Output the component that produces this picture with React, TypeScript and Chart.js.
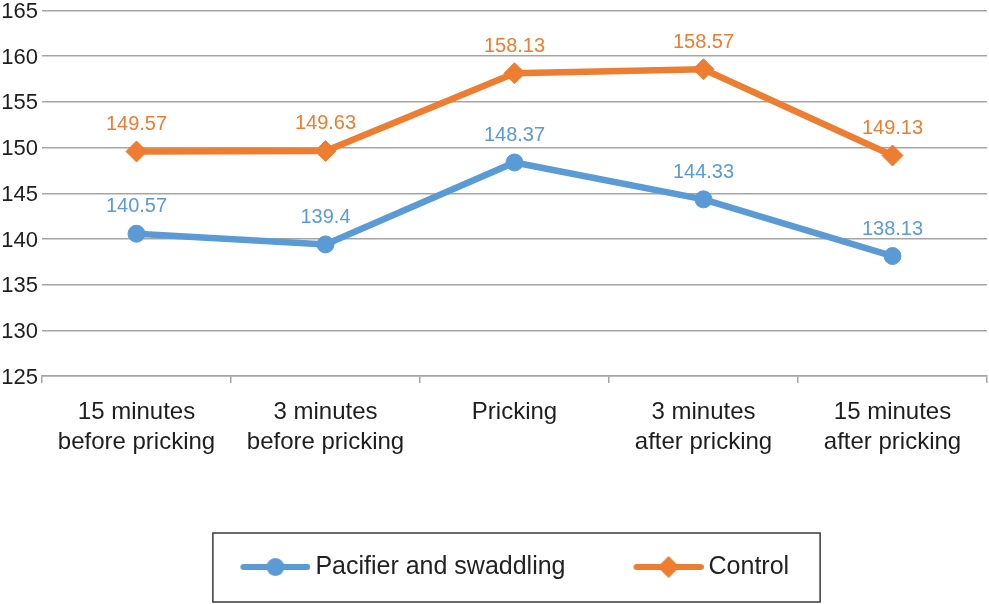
import React, { useEffect, useRef } from "react";
import { Chart, registerables } from "chart.js";

Chart.register(...registerables);

const categories: (string | string[])[] = [
  ["15 minutes", "before pricking"],
  ["3 minutes", "before pricking"],
  "Pricking",
  ["3 minutes", "after pricking"],
  ["15 minutes", "after pricking"],
];
const pacifierValues = [140.57, 139.4, 148.37, 144.33, 138.13];
const controlValues = [149.57, 149.63, 158.13, 158.57, 149.13];
const seriesNames = ["Pacifier and swaddling", "Control"];
const yMin = 125;
const yMax = 165;
const yStep = 5;

const BLUE = "#5B9BD5";
const ORANGE = "#ED7D31";
const FONT = "'Liberation Sans', Arial, Helvetica, sans-serif";

function makeSymbol(color: string, kind: "circle" | "diamond"): HTMLCanvasElement {
  const c = document.createElement("canvas");
  c.width = 78;
  c.height = 24;
  const g = c.getContext("2d")!;
  g.strokeStyle = color;
  g.fillStyle = color;
  g.lineWidth = 6;
  g.lineCap = "round";
  g.beginPath();
  g.moveTo(11, 12);
  g.lineTo(75, 12);
  g.stroke();
  g.beginPath();
  if (kind === "circle") {
    g.arc(43, 12, 9, 0, Math.PI * 2);
  } else {
    g.moveTo(43, 1);
    g.lineTo(54, 12);
    g.lineTo(43, 23);
    g.lineTo(32, 12);
    g.closePath();
  }
  g.fill();
  return c;
}

const dataLabelPlugin = {
  id: "dataLabels",
  afterDatasetsDraw(chart: any) {
    const ctx = chart.ctx;
    ctx.save();
    ctx.font = `20px ${FONT}`;
    ctx.textAlign = "center";
    ctx.textBaseline = "middle";
    chart.data.datasets.forEach((ds: any, i: number) => {
      const meta = chart.getDatasetMeta(i);
      ctx.fillStyle = ds.borderColor;
      meta.data.forEach((pt: any, j: number) => {
        ctx.fillText(String(ds.data[j]), pt.x, pt.y - 27);
      });
    });
    ctx.restore();
  },
};

const legendBoxPlugin = {
  id: "legendBox",
  afterDraw(chart: any) {
    const lg = chart.legend;
    if (!lg || !lg.legendHitBoxes || !lg.legendHitBoxes.length) return;
    const hb = lg.legendHitBoxes;
    const first = hb[0];
    const last = hb[hb.length - 1];
    const cy = first.top + first.height / 2;
    const left = first.left - 27;
    const right = last.left + last.width + 31;
    const top = cy - 34;
    const bottom = cy + 35;
    const ctx = chart.ctx;
    ctx.save();
    ctx.strokeStyle = "#3a3a3a";
    ctx.lineWidth = 1.5;
    ctx.strokeRect(left, top, right - left, bottom - top);
    ctx.restore();
  },
};

export default function App() {
  const ref = useRef<HTMLCanvasElement | null>(null);

  useEffect(() => {
    if (!ref.current) return;
    const symbols = [makeSymbol(BLUE, "circle"), makeSymbol(ORANGE, "diamond")];
    const chart = new Chart(ref.current, {
      type: "line",
      data: {
        labels: categories as any,
        datasets: [
          {
            label: seriesNames[0],
            data: pacifierValues,
            borderColor: BLUE,
            backgroundColor: BLUE,
            borderWidth: 6.5,
            pointStyle: "circle",
            pointRadius: 8.5,
            pointBorderWidth: 1,
            pointBackgroundColor: BLUE,
            pointBorderColor: BLUE,
            tension: 0,
          },
          {
            label: seriesNames[1],
            data: controlValues,
            borderColor: ORANGE,
            backgroundColor: ORANGE,
            borderWidth: 6.5,
            pointStyle: "rectRot",
            pointRadius: 10.5,
            pointBorderWidth: 1,
            pointBackgroundColor: ORANGE,
            pointBorderColor: ORANGE,
            tension: 0,
          },
        ],
      },
      options: {
        responsive: false,
        animation: false,
        layout: { autoPadding: false, padding: { top: 10.5, left: 0, right: 2, bottom: 14.5 } },
        plugins: {
          tooltip: { enabled: false },
          legend: {
            position: "bottom",
            fullSize: false,
            labels: {
              usePointStyle: true,
              pointStyleWidth: 63,
              padding: 67.5,
              color: "#222",
              font: { family: FONT, size: 25 },
              generateLabels: (c: any) =>
                c.data.datasets.map((ds: any, i: number) => ({
                  text: ds.label,
                  pointStyle: symbols[i],
                  fillStyle: ds.borderColor,
                  strokeStyle: ds.borderColor,
                  lineWidth: 0,
                  hidden: false,
                  datasetIndex: i,
                  fontColor: "#222",
                })),
            },
          },
        },
        scales: {
          x: {
            type: "category",
            offset: true,
            grid: {
              offset: true,
              drawOnChartArea: false,
              drawTicks: true,
              tickLength: 7,
              color: "#a5a5a5",
              lineWidth: 1.5,
            },
            border: { display: true, color: "#a5a5a5", width: 1.5 },
            ticks: {
              autoSkip: false,
              maxRotation: 0,
              minRotation: 0,
              padding: 14,
              color: "#1e1e1e",
              font: { family: FONT, size: 24, lineHeight: 1.25 },
            },
            afterFit: (s: any) => {
              s.height = 111;
              s.paddingLeft = 0;
              s.paddingRight = 0;
            },
          },
          y: {
            min: yMin,
            max: yMax,
            ticks: {
              stepSize: yStep,
              padding: 4,
              labelOffset: 1.5,
              color: "#1e1e1e",
              font: { family: FONT, size: 22 },
            },
            grid: {
              drawTicks: false,
              color: "#a5a5a5",
              lineWidth: 1.5,
            },
            border: { display: false },
            afterFit: (s: any) => {
              s.width = 42;
              s.paddingTop = 0;
              s.paddingBottom = 0;
            },
          },
        },
      },
      plugins: [dataLabelPlugin, legendBoxPlugin],
    } as any);
    return () => chart.destroy();
  }, []);

  return (
    <div style={{ position: "absolute", left: 0, top: 0, width: 989, height: 604, background: "#fff" }}>
      <canvas ref={ref} width={989} height={604} style={{ display: "block" }} />
    </div>
  );
}
